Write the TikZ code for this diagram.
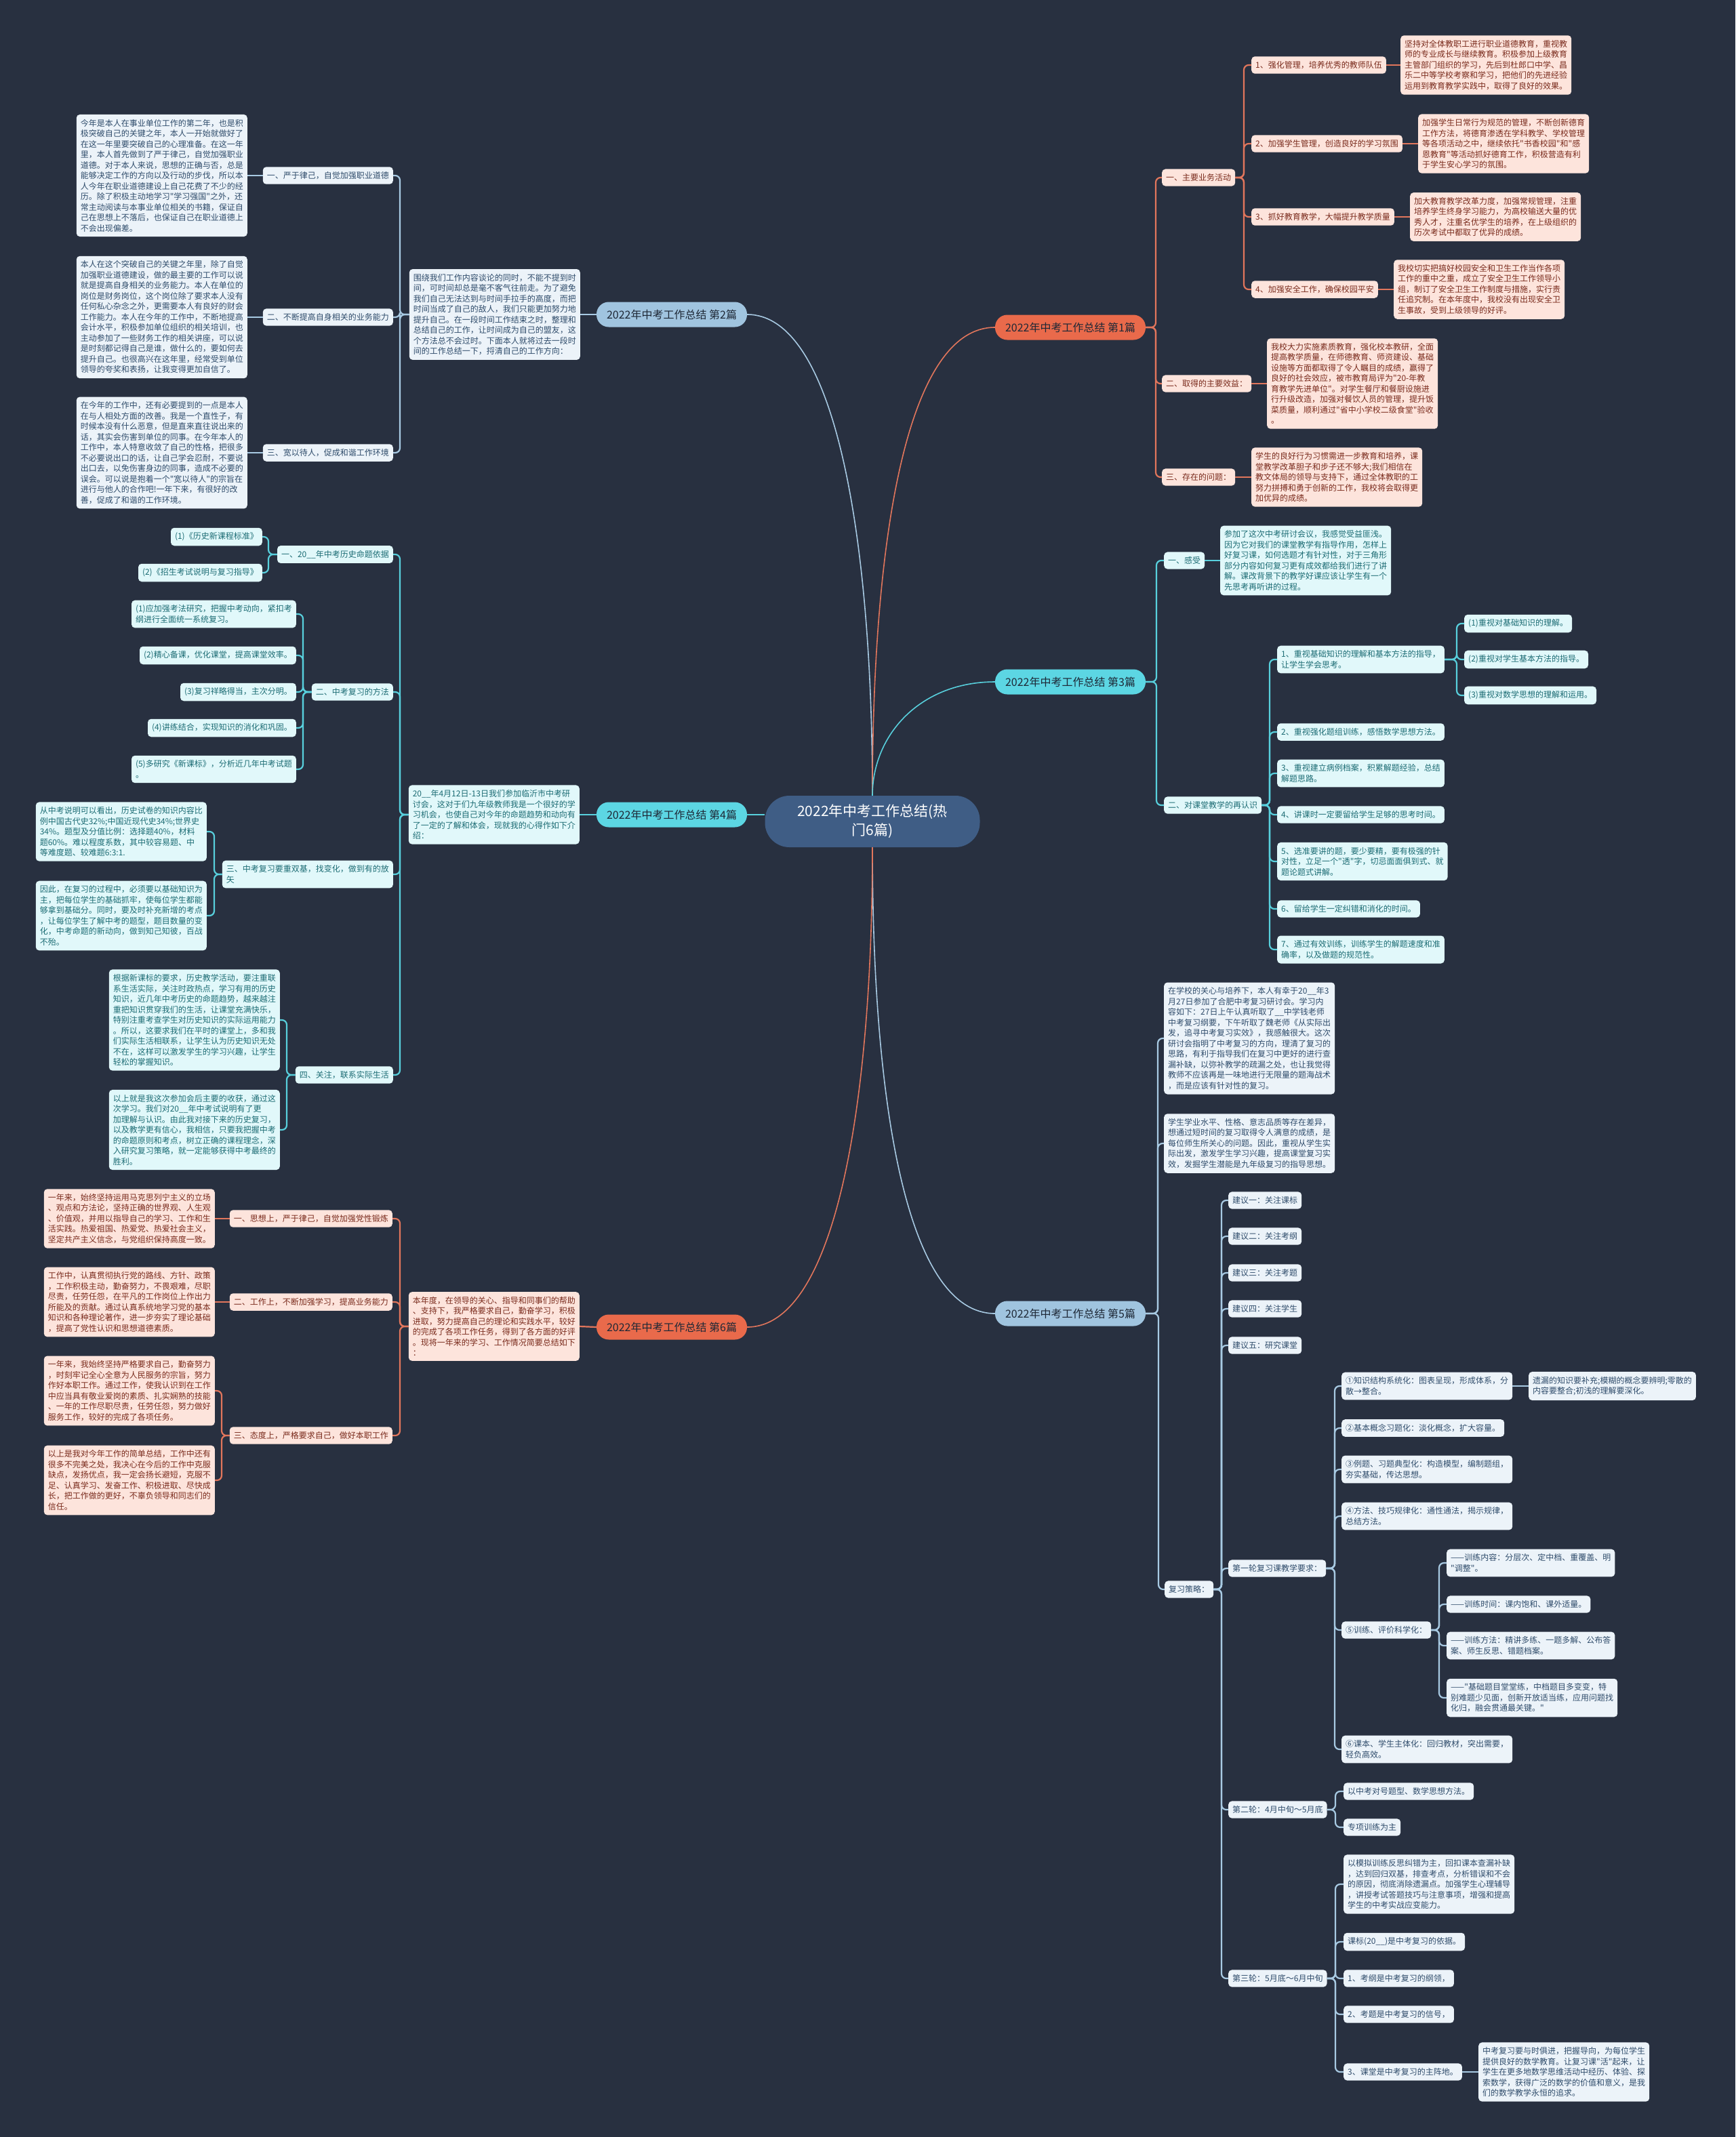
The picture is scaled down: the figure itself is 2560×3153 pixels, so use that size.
\documentclass[tikz,border=0pt]{standalone}
\usepackage{fontspec}
\setmainfont{Noto Sans CJK SC}[Ligatures=TeXOff]
\usetikzlibrary{calc}
\definecolor{bgcol}{HTML}{283040}
\definecolor{rootcol}{HTML}{3F5D85}
\definecolor{orangecol}{HTML}{E96A4B}
\definecolor{skycol}{HTML}{A0C4DF}
\definecolor{cyancol}{HTML}{5CD6E3}
\definecolor{topictext}{HTML}{1E2836}
\definecolor{redfill}{HTML}{FDE4DC}
\definecolor{redtext}{HTML}{7A2B1D}
\definecolor{bluefill}{HTML}{ECF3F9}
\definecolor{bluetext}{HTML}{2F4C6B}
\definecolor{cyanfill}{HTML}{E1F8FA}
\definecolor{cyantext}{HTML}{1C6C74}
\definecolor{redln}{HTML}{E2765C}
\definecolor{blueln}{HTML}{A8CAE3}
\definecolor{cyanln}{HTML}{58D0DD}

\begin{document}
\begin{tikzpicture}[
  x=1pt, y=-1pt,
  box/.style={rectangle, rounded corners=5pt, align=left, inner xsep=6pt,
              inner ysep=7pt, font=\fontsize{12}{15.5}\selectfont},
  redbox/.style={box, fill=redfill, text=redtext},
  bluebox/.style={box, fill=bluefill, text=bluetext},
  cyanbox/.style={box, fill=cyanfill, text=cyantext},
  topic/.style={rectangle, rounded corners=18pt, minimum width=222pt,
                minimum height=37pt, font=\fontsize{16}{20}\selectfont, text=topictext},
  rootbox/.style={rectangle, rounded corners=36pt, fill=rootcol, text=white,
                  minimum width=317pt, minimum height=76pt, align=center,
                  font=\fontsize{21}{28}\selectfont},
  lft/.style={anchor=east},
  rgt/.style={anchor=west},
  curve/.style={line width=1.6pt},
  link/.style={line width=2.2pt, rounded corners=7pt}
]
\useasboundingbox[fill=bgcol] (0,0) rectangle (2560,3153);

\node[rootbox] (root) at (1287,1212) {2022年中考工作总结(热\\门6篇)};
\node[topic, fill=orangecol] (b1) at (1579,483) {2022年中考工作总结 第1篇};
\node[topic, fill=skycol] (b2) at (991,464) {2022年中考工作总结 第2篇};
\node[topic, fill=cyancol] (b3) at (1579,1006) {2022年中考工作总结 第3篇};
\node[topic, fill=cyancol] (b4) at (991,1202) {2022年中考工作总结 第4篇};
\node[topic, fill=skycol] (b5) at (1579,1938) {2022年中考工作总结 第5篇};
\node[topic, fill=orangecol] (b6) at (991,1958) {2022年中考工作总结 第6篇};

% 第1篇
\node[redbox, rgt] (b1a) at (1714,262) {一、主要业务活动};
\node[redbox, rgt] (b1b) at (1714,566) {二、取得的主要效益：};
\node[redbox, rgt] (b1c) at (1714,704) {三、存在的问题：};
\node[redbox, rgt] (b1a1) at (1846,96) {1、强化管理，培养优秀的教师队伍};
\node[redbox, rgt] (b1a2) at (1846,212) {2、加强学生管理，创造良好的学习氛围};
\node[redbox, rgt] (b1a3) at (1846,320) {3、抓好教育教学，大幅提升教学质量};
\node[redbox, rgt] (b1a4) at (1846,427) {4、加强安全工作，确保校园平安};
\node[redbox, rgt] (t1a1) at (2066,96) {坚持对全体教职工进行职业道德教育，重视教\\师的专业成长与继续教育。积极参加上级教育\\主管部门组织的学习，先后到杜郎口中学、昌\\乐二中等学校考察和学习，把他们的先进经验\\运用到教育教学实践中，取得了良好的效果。};
\node[redbox, rgt] (t1a2) at (2092,212) {加强学生日常行为规范的管理，不断创新德育\\工作方法，将德育渗透在学科教学、学校管理\\等各项活动之中，继续依托"书香校园"和"感\\恩教育"等活动抓好德育工作，积极营造有利\\于学生安心学习的氛围。};
\node[redbox, rgt] (t1a3) at (2080,320) {加大教育教学改革力度，加强常规管理，注重\\培养学生终身学习能力，为高校输送大量的优\\秀人才，注重名优学生的培养，在上级组织的\\历次考试中都取了优异的成绩。};
\node[redbox, rgt] (t1a4) at (2056,427) {我校切实把搞好校园安全和卫生工作当作各项\\工作的重中之重，成立了安全卫生工作领导小\\组，制订了安全卫生工作制度与措施，实行责\\任追究制。在本年度中，我校没有出现安全卫\\生事故，受到上级领导的好评。};
\node[redbox, rgt] (t1b) at (1869,566) {我校大力实施素质教育，强化校本教研，全面\\提高教学质量，在师德教育、师资建设、基础\\设施等方面都取得了令人瞩目的成绩，赢得了\\良好的社会效应，被市教育局评为"20-年教\\育教学先进单位"。对学生餐厅和餐厨设施进\\行升级改造，加强对餐饮人员的管理，提升饭\\菜质量，顺利通过"省中小学校二级食堂"验收\\。};
\node[redbox, rgt] (t1c) at (1846,704) {学生的良好行为习惯需进一步教育和培养，课\\堂教学改革胆子和步子还不够大;我们相信在\\教文体局的领导与支持下，通过全体教职的工\\努力拼搏和勇于创新的工作，我校将会取得更\\加优异的成绩。};

% 第2篇
\node[bluebox, lft] (i2) at (856,464) {围绕我们工作内容谈论的同时，不能不提到时\\间，可时间却总是毫不客气往前走。为了避免\\我们自己无法达到与时间手拉手的高度，而把\\时间当成了自己的敌人，我们只能更加努力地\\提升自己。在一段时间工作结束之时，整理和\\总结自己的工作，让时间成为自己的盟友，这\\个方法总不会过时。下面本人就将过去一段时\\间的工作总结一下，捋清自己的工作方向：};
\node[bluebox, lft] (b2a) at (580,259) {一、严于律己，自觉加强职业道德};
\node[bluebox, lft] (b2b) at (580,468) {二、不断提高自身相关的业务能力};
\node[bluebox, lft] (b2c) at (580,668) {三、宽以待人，促成和谐工作环境};
\node[bluebox, lft] (t2a) at (365,259) {今年是本人在事业单位工作的第二年，也是积\\极突破自己的关键之年，本人一开始就做好了\\在这一年里要突破自己的心理准备。在这一年\\里，本人首先做到了严于律己，自觉加强职业\\道德。对于本人来说，思想的正确与否，总是\\能够决定工作的方向以及行动的步伐，所以本\\人今年在职业道德建设上自己花费了不少的经\\历。除了积极主动地学习"学习强国"之外，还\\常主动阅读与本事业单位相关的书籍，保证自\\己在思想上不落后，也保证自己在职业道德上\\不会出现偏差。};
\node[bluebox, lft] (t2b) at (365,468) {本人在这个突破自己的关键之年里，除了自觉\\加强职业道德建设，做的最主要的工作可以说\\就是提高自身相关的业务能力。本人在单位的\\岗位是财务岗位，这个岗位除了要求本人没有\\任何私心杂念之外，更需要本人有良好的财会\\工作能力。本人在今年的工作中，不断地提高\\会计水平，积极参加单位组织的相关培训，也\\主动参加了一些财务工作的相关讲座，可以说\\是时刻都记得自己是谁，做什么的，要如何去\\提升自己。也很高兴在这年里，经常受到单位\\领导的夸奖和表扬，让我变得更加自信了。};
\node[bluebox, lft] (t2c) at (365,668) {在今年的工作中，还有必要提到的一点是本人\\在与人相处方面的改善。我是一个直性子，有\\时候本没有什么恶意，但是直来直往说出来的\\话，其实会伤害到单位的同事。在今年本人的\\工作中，本人特意收敛了自己的性格，把很多\\不必要说出口的话，让自己学会忍耐，不要说\\出口去，以免伤害身边的同事，造成不必要的\\误会。可以说是抱着一个"宽以待人"的宗旨在\\进行与他人的合作吧!一年下来，有很好的改\\善，促成了和谐的工作环境。};

% 第3篇
\node[cyanbox, rgt] (b3a) at (1717,827) {一、感受};
\node[cyanbox, rgt] (t3a) at (1800,827) {参加了这次中考研讨会议，我感觉受益匪浅。\\因为它对我们的课堂教学有指导作用，怎样上\\好复习课，如何选题才有针对性，对于三角形\\部分内容如何复习更有成效都给我们进行了讲\\解。课改背景下的教学好课应该让学生有一个\\先思考再听讲的过程。};
\node[cyanbox, rgt] (b3b) at (1717,1188) {二、对课堂教学的再认识};
\node[cyanbox, rgt] (b3b1) at (1884,973) {1、重视基础知识的理解和基本方法的指导，\\让学生学会思考。};
\node[cyanbox, rgt] (b3b2) at (1884,1080) {2、重视强化题组训练，感悟数学思想方法。};
\node[cyanbox, rgt] (b3b3) at (1884,1141) {3、重视建立病例档案，积累解题经验，总结\\解题思路。};
\node[cyanbox, rgt] (b3b4) at (1884,1202) {4、讲课时一定要留给学生足够的思考时间。};
\node[cyanbox, rgt] (b3b5) at (1884,1271) {5、选准要讲的题，要少要精，要有极强的针\\对性，立足一个"透"字，切忌面面俱到式、就\\题论题式讲解。};
\node[cyanbox, rgt] (b3b6) at (1884,1341) {6、留给学生一定纠错和消化的时间。};
\node[cyanbox, rgt] (b3b7) at (1884,1401) {7、通过有效训练，训练学生的解题速度和准\\确率，以及做题的规范性。};
\node[cyanbox, rgt] (b3b1x) at (2160,920) {(1)重视对基础知识的理解。};
\node[cyanbox, rgt] (b3b1y) at (2160,973) {(2)重视对学生基本方法的指导。};
\node[cyanbox, rgt] (b3b1z) at (2160,1026) {(3)重视对数学思想的理解和运用。};

% 第4篇
\node[cyanbox, lft] (i4) at (855,1202) {20\_\_年4月12日-13日我们参加临沂市中考研\\讨会，这对于们九年级教师我是一个很好的学\\习机会，也使自己对今年的命题趋势和动向有\\了一定的了解和体会，现就我的心得作如下介\\绍：};
\node[cyanbox, lft] (b4a) at (580,818) {一、20\_\_年中考历史命题依据};
\node[cyanbox, lft] (b4a1) at (387,792) {(1)《历史新课程标准》};
\node[cyanbox, lft] (b4a2) at (387,845) {(2)《招生考试说明与复习指导》};
\node[cyanbox, lft] (b4b) at (580,1021) {二、中考复习的方法};
\node[cyanbox, lft] (b4b1) at (437,906) {(1)应加强考法研究，把握中考动向，紧扣考\\纲进行全面统一系统复习。};
\node[cyanbox, lft] (b4b2) at (437,967) {(2)精心备课，优化课堂，提高课堂效率。};
\node[cyanbox, lft] (b4b3) at (437,1021) {(3)复习祥略得当，主次分明。};
\node[cyanbox, lft] (b4b4) at (437,1074) {(4)讲练结合，实现知识的消化和巩固。};
\node[cyanbox, lft] (b4b5) at (437,1135) {(5)多研究《新课标》，分析近几年中考试题\\。};
\node[cyanbox, lft] (b4c) at (580,1290) {三、中考复习要重双基，找变化，做到有的放\\矢};
\node[cyanbox, lft] (t4c1) at (305,1227) {从中考说明可以看出，历史试卷的知识内容比\\例中国古代史32\%;中国近现代史34\%;世界史\\34\%。题型及分值比例：选择题40\%，材料\\题60\%。难以程度系数，其中较容易题、中\\等难度题、较难题6:3:1.};
\node[cyanbox, lft] (t4c2) at (305,1351) {因此，在复习的过程中，必须要以基础知识为\\主，把每位学生的基础抓牢，使每位学生都能\\够拿到基础分。同时，要及时补充新增的考点\\，让每位学生了解中考的题型，题目数量的变\\化，中考命题的新动向，做到知己知彼，百战\\不殆。};
\node[cyanbox, lft] (b4d) at (580,1586) {四、关注，联系实际生活};
\node[cyanbox, lft] (t4d1) at (413,1505) {根据新课标的要求，历史教学活动，要注重联\\系生活实际，关注时政热点，学习有用的历史\\知识，近几年中考历史的命题趋势，越来越注\\重把知识贯穿我们的生活，让课堂充满快乐，\\特别注重考查学生对历史知识的实际运用能力\\。所以，这要求我们在平时的课堂上，多和我\\们实际生活相联系，让学生认为历史知识无处\\不在，这样可以激发学生的学习兴趣，让学生\\轻松的掌握知识。};
\node[cyanbox, lft] (t4d2) at (413,1667) {以上就是我这次参加会后主要的收获，通过这\\次学习。我们对20\_\_年中考试说明有了更\\加理解与认识。由此我对接下来的历史复习，\\以及教学更有信心，我相信，只要我把握中考\\的命题原则和考点，树立正确的课程理念，深\\入研究复习策略，就一定能够获得中考最终的\\胜利。};

% 第5篇
\node[bluebox, rgt] (t5a) at (1717,1532) {在学校的关心与培养下，本人有幸于20\_\_年3\\月27日参加了合肥中考复习研讨会。学习内\\容如下：27日上午认真听取了\_\_中学钱老师\\中考复习纲要，下午听取了魏老师《从实际出\\发，追寻中考复习实效》，我感触很大。这次\\研讨会指明了中考复习的方向，理清了复习的\\思路，有利于指导我们在复习中更好的进行查\\漏补缺，以弥补教学的疏漏之处，也让我觉得\\教师不应该再是一味地进行无限量的题海战术\\，而是应该有针对性的复习。};
\node[bluebox, rgt] (t5b) at (1717,1687) {学生学业水平、性格、意志品质等存在差异，\\想通过短时间的复习取得令人满意的成绩，是\\每位师生所关心的问题。因此，重视从学生实\\际出发，激发学生学习兴趣，提高课堂复习实\\效，发掘学生潜能是九年级复习的指导思想。};
\node[bluebox, rgt] (b5s) at (1718,2345) {复习策略：};
\node[bluebox, rgt] (s1) at (1812,1771) {建议一：关注课标};
\node[bluebox, rgt] (s2) at (1812,1824) {建议二：关注考纲};
\node[bluebox, rgt] (s3) at (1812,1878) {建议三：关注考题};
\node[bluebox, rgt] (s4) at (1812,1931) {建议四：关注学生};
\node[bluebox, rgt] (s5) at (1812,1985) {建议五：研究课堂};
\node[bluebox, rgt] (r1) at (1812,2314) {第一轮复习课教学要求：};
\node[bluebox, rgt] (r2) at (1812,2670) {第二轮：4月中旬～5月底};
\node[bluebox, rgt] (r3) at (1812,2919) {第三轮：5月底～6月中旬};
\node[bluebox, rgt] (r1a) at (1979,2045) {①知识结构系统化：图表呈现，形成体系，分\\散→整合。};
\node[bluebox, rgt] (r1ax) at (2255,2045) {遗漏的知识要补充;模糊的概念要辨明;零散的\\内容要整合;初浅的理解要深化。};
\node[bluebox, rgt] (r1b) at (1979,2107) {②基本概念习题化：淡化概念，扩大容量。};
\node[bluebox, rgt] (r1c) at (1979,2168) {③例题、习题典型化：构造模型，编制题组，\\夯实基础，传达思想。};
\node[bluebox, rgt] (r1d) at (1979,2237) {④方法、技巧规律化：通性通法，揭示规律，\\总结方法。};
\node[bluebox, rgt] (r1e) at (1979,2405) {⑤训练、评价科学化：};
\node[bluebox, rgt] (r1f) at (1979,2581) {⑥课本、学生主体化：回归教材，突出需要，\\轻负高效。};
\node[bluebox, rgt] (r1e1) at (2134,2306) {——训练内容：分层次、定中档、重覆盖、明\\"调整"。};
\node[bluebox, rgt] (r1e2) at (2134,2367) {——训练时间：课内饱和、课外适量。};
\node[bluebox, rgt] (r1e3) at (2134,2428) {——训练方法：精讲多练、一题多解、公布答\\案、师生反思、错题档案。};
\node[bluebox, rgt] (r1e4) at (2134,2505) {——"基础题目堂堂练，中档题目多变变，特\\别难题少见面，创新开放适当练，应用问题找\\化归，融会贯通最关键。"};
\node[bluebox, rgt] (r2a) at (1982,2643) {以中考对号题型、数学思想方法。};
\node[bluebox, rgt] (r2b) at (1982,2696) {专项训练为主};
\node[bluebox, rgt] (r3a) at (1982,2780) {以模拟训练反思纠错为主，回扣课本查漏补缺\\，达到回归双基，排查考点，分析错误和不会\\的原因，彻底消除遗漏点。加强学生心理辅导\\，讲授考试答题技巧与注意事项，增强和提高\\学生的中考实战应变能力。};
\node[bluebox, rgt] (r3b) at (1982,2865) {课标(20\_\_)是中考复习的依据。};
\node[bluebox, rgt] (r3c) at (1982,2919) {1、考纲是中考复习的纲领，};
\node[bluebox, rgt] (r3d) at (1982,2972) {2、考题是中考复习的信号，};
\node[bluebox, rgt] (r3e) at (1982,3057) {3、课堂是中考复习的主阵地。};
\node[bluebox, rgt] (r3ex) at (2181,3057) {中考复习要与时俱进，把握导向，为每位学生\\提供良好的数学教育。让复习课"活"起来，让\\学生在更多地数学思维活动中经历、体验、探\\索数学，获得广泛的数学的价值和意义，是我\\们的数学教学永恒的追求。};

% 第6篇
\node[redbox, lft] (i6) at (855,1957) {本年度，在领导的关心、指导和同事们的帮助\\、支持下，我严格要求自己，勤奋学习，积极\\进取，努力提高自己的理论和实践水平，较好\\的完成了各项工作任务，得到了各方面的好评\\。现将一年来的学习、工作情况简要总结如下\\：};
\node[redbox, lft] (b6a) at (579,1798) {一、思想上，严于律己，自觉加强党性锻炼};
\node[redbox, lft] (b6b) at (579,1921) {二、工作上，不断加强学习，提高业务能力};
\node[redbox, lft] (b6c) at (579,2118) {三、态度上，严格要求自己，做好本职工作};
\node[redbox, lft] (t6a) at (317,1798) {一年来，始终坚持运用马克思列宁主义的立场\\、观点和方法论，坚持正确的世界观、人生观\\、价值观，并用以指导自己的学习、工作和生\\活实践。热爱祖国、热爱党、热爱社会主义，\\坚定共产主义信念，与党组织保持高度一致。};
\node[redbox, lft] (t6b) at (317,1921) {工作中，认真贯彻执行党的路线、方针、政策\\，工作积极主动，勤奋努力，不畏艰难，尽职\\尽责，任劳任怨，在平凡的工作岗位上作出力\\所能及的贡献。通过认真系统地学习党的基本\\知识和各种理论著作，进一步夯实了理论基础\\，提高了党性认识和思想道德素质。};
\node[redbox, lft] (t6c1) at (317,2052) {一年来，我始终坚持严格要求自己，勤奋努力\\，时刻牢记全心全意为人民服务的宗旨，努力\\作好本职工作。通过工作，使我认识到在工作\\中应当具有敬业爱岗的素质、扎实娴熟的技能\\、一年的工作尽职尽责，任劳任怨，努力做好\\服务工作，较好的完成了各项任务。};
\node[redbox, lft] (t6c2) at (317,2184) {以上是我对今年工作的简单总结，工作中还有\\很多不完美之处，我决心在今后的工作中克服\\缺点，发扬优点，我一定会扬长避短，克服不\\足、认真学习、发奋工作、积极进取、尽快成\\长，把工作做的更好，不辜负领导和同志们的\\信任。};

% root to topics
\draw[curve, blueln] (b2.east) .. controls +(130,0) and +(0,-380) .. (root.north);
\draw[curve, redln] (root.north) .. controls +(0,-380) and +(-130,0) .. (b1.west);
\draw[curve, cyanln] (root.north) .. controls +(0,-90) and +(-110,0) .. (b3.west);
\draw[curve, cyanln] (b4.east) -- (b4.east -| root.west);
\draw[curve, blueln] (root.south) .. controls +(0,380) and +(-130,0) .. (b5.west);
\draw[curve, redln] (root.south) .. controls +(0,380) and +(130,0) .. (b6.east);

% right side brackets
\foreach \k in {b1a,b1b,b1c}
  \draw[link, redln] (b1.east) -| ([xshift=-9pt]\k.west) -- (\k.west);
\foreach \k in {b1a1,b1a2,b1a3,b1a4}
  \draw[link, redln] (b1a.east) -| ([xshift=-11pt]\k.west) -- (\k.west);
\draw[link, redln] (b1a1.east) -- (t1a1.west);
\draw[link, redln] (b1a2.east) -- (t1a2.west);
\draw[link, redln] (b1a3.east) -- (t1a3.west);
\draw[link, redln] (b1a4.east) -- (t1a4.west);
\draw[link, redln] (b1b.east) -- (t1b.west);
\draw[link, redln] (b1c.east) -- (t1c.west);

\foreach \k in {b3a,b3b}
  \draw[link, cyanln] (b3.east) -| ([xshift=-11pt]\k.west) -- (\k.west);
\draw[link, cyanln] (b3a.east) -- (t3a.west);
\foreach \k in {b3b1,b3b2,b3b3,b3b4,b3b5,b3b6,b3b7}
  \draw[link, cyanln] (b3b.east) -| ([xshift=-11pt]\k.west) -- (\k.west);
\foreach \k in {b3b1x,b3b1y,b3b1z}
  \draw[link, cyanln] (b3b1.east) -| ([xshift=-11pt]\k.west) -- (\k.west);

\foreach \k in {t5a,t5b,b5s}
  \draw[link, blueln] (b5.east) -| ([xshift=-9pt]\k.west) -- (\k.west);
\foreach \k in {s1,s2,s3,s4,s5,r1,r2,r3}
  \draw[link, blueln] (b5s.east) -| ([xshift=-10pt]\k.west) -- (\k.west);
\foreach \k in {r1a,r1b,r1c,r1d,r1e,r1f}
  \draw[link, blueln] (r1.east) -| ([xshift=-10pt]\k.west) -- (\k.west);
\draw[link, blueln] (r1a.east) -- (r1ax.west);
\foreach \k in {r1e1,r1e2,r1e3,r1e4}
  \draw[link, blueln] (r1e.east) -| ([xshift=-11pt]\k.west) -- (\k.west);
\foreach \k in {r2a,r2b}
  \draw[link, blueln] (r2.east) -| ([xshift=-12pt]\k.west) -- (\k.west);
\foreach \k in {r3a,r3b,r3c,r3d,r3e}
  \draw[link, blueln] (r3.east) -| ([xshift=-12pt]\k.west) -- (\k.west);
\draw[link, blueln] (r3e.east) -- (r3ex.west);

% left side brackets
\draw[link, blueln] (b2.west) -- (i2.east);
\foreach \k in {b2a,b2b,b2c}
  \draw[link, blueln] (i2.west) -| ([xshift=10pt]\k.east) -- (\k.east);
\draw[link, blueln] (b2a.west) -- (t2a.east);
\draw[link, blueln] (b2b.west) -- (t2b.east);
\draw[link, blueln] (b2c.west) -- (t2c.east);

\draw[link, cyanln] (b4.west) -- (i4.east);
\foreach \k in {b4a,b4b,b4c,b4d}
  \draw[link, cyanln] (i4.west) -| ([xshift=10pt]\k.east) -- (\k.east);
\foreach \k in {b4a1,b4a2}
  \draw[link, cyanln] (b4a.west) -| ([xshift=9pt]\k.east) -- (\k.east);
\foreach \k in {b4b1,b4b2,b4b3,b4b4,b4b5}
  \draw[link, cyanln] (b4b.west) -| ([xshift=10pt]\k.east) -- (\k.east);
\foreach \k in {t4c1,t4c2}
  \draw[link, cyanln] (b4c.west) -| ([xshift=11pt]\k.east) -- (\k.east);
\foreach \k in {t4d1,t4d2}
  \draw[link, cyanln] (b4d.west) -| ([xshift=10pt]\k.east) -- (\k.east);

\draw[link, redln] (b6.west) -- (i6.east);
\foreach \k in {b6a,b6b,b6c}
  \draw[link, redln] (i6.west) -| ([xshift=11pt]\k.east) -- (\k.east);
\draw[link, redln] (b6a.west) -- (t6a.east);
\draw[link, redln] (b6b.west) -- (t6b.east);
\foreach \k in {t6c1,t6c2}
  \draw[link, redln] (b6c.west) -| ([xshift=10pt]\k.east) -- (\k.east);
\end{tikzpicture}
\end{document}
